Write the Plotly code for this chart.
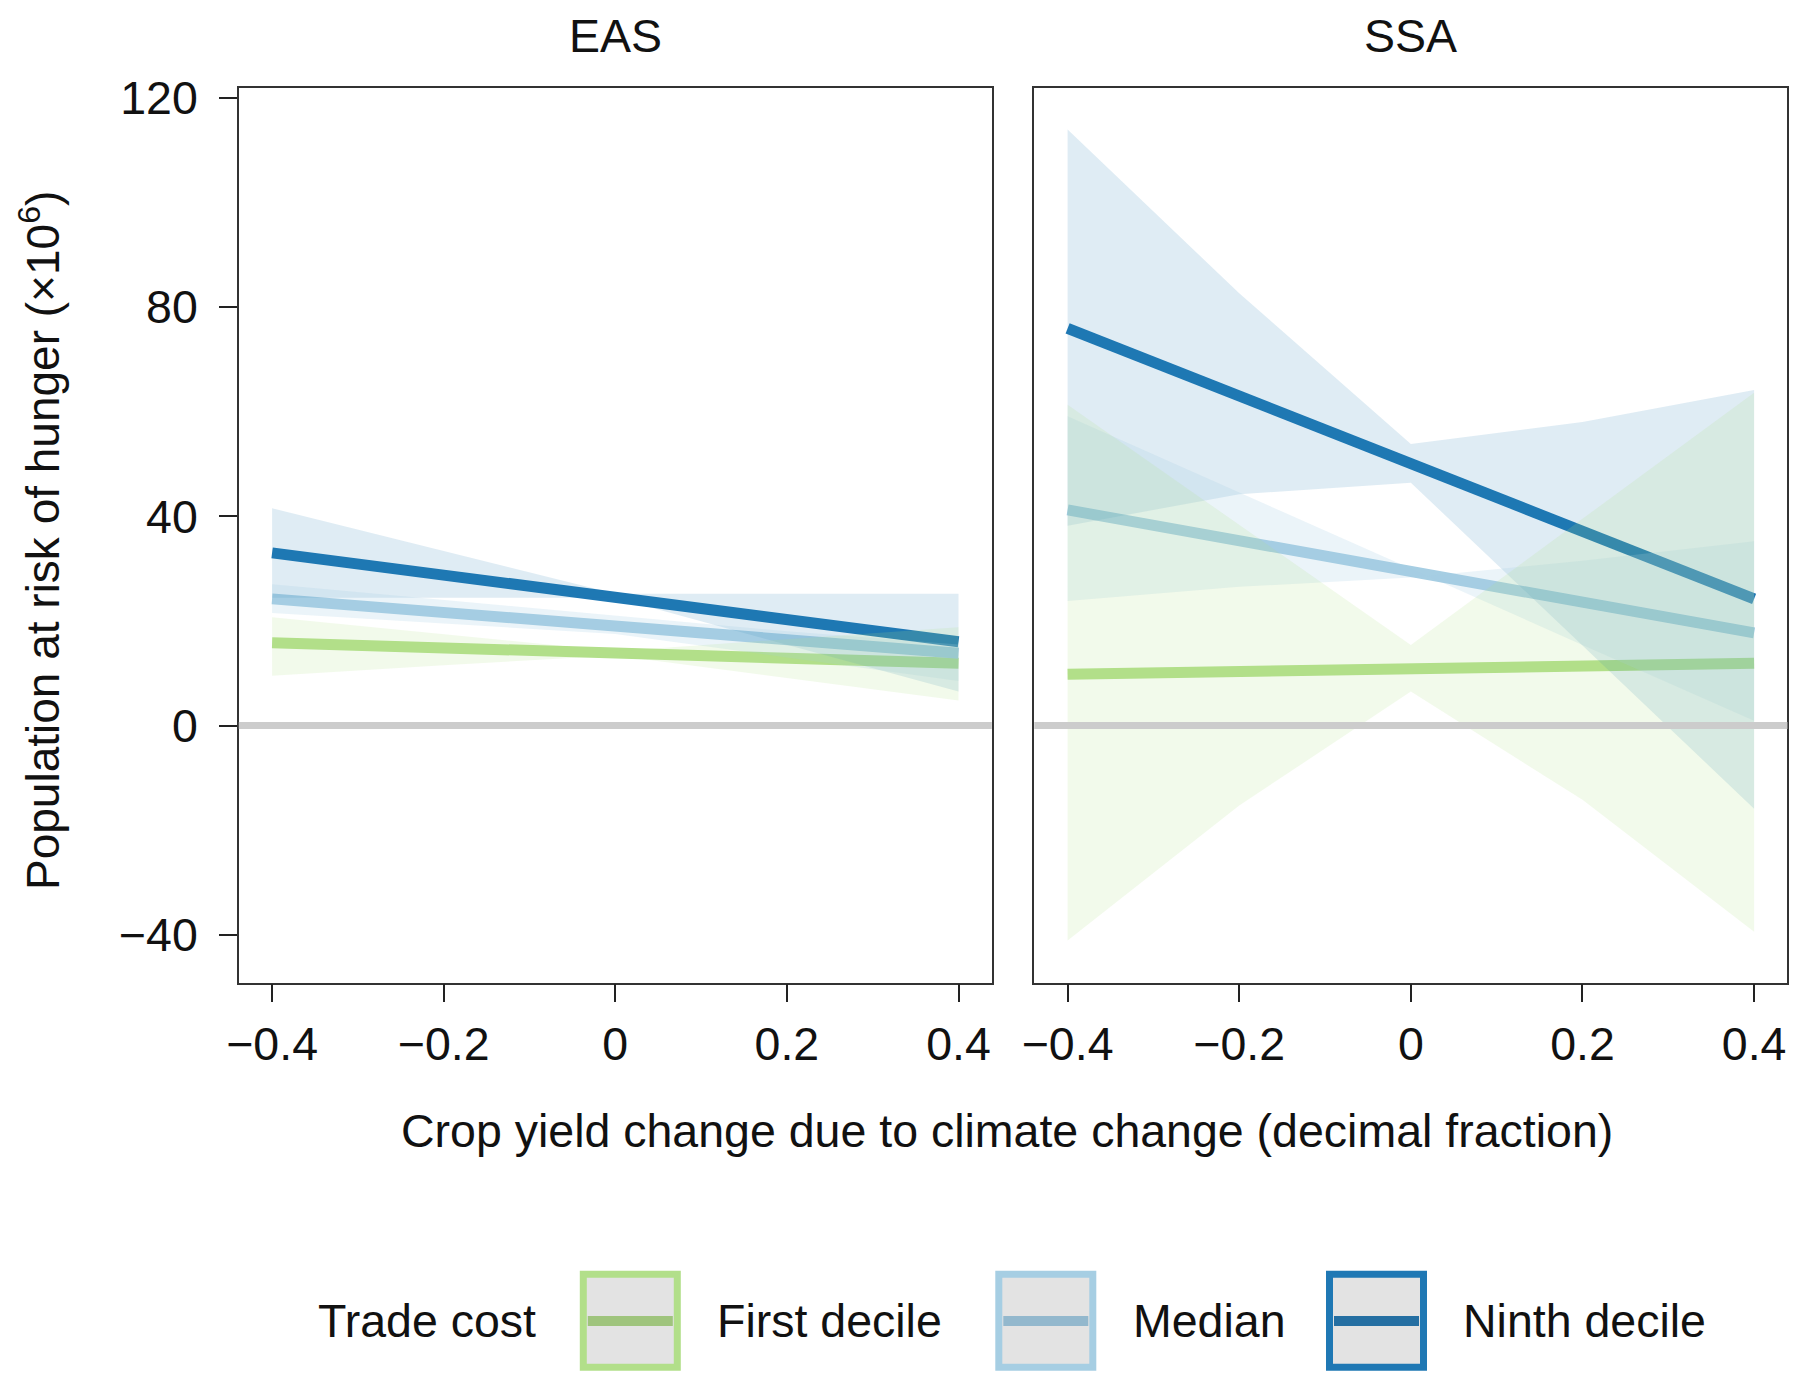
import plotly.graph_objects as go

# ---------------- data ----------------
x_vals = [-0.4, -0.2, 0.0, 0.2, 0.4]
x_tick_vals = [-0.4, -0.2, 0.0, 0.2, 0.4]
x_tick_text = ["\u22120.4", "\u22120.2", "0", "0.2", "0.4"]
y_tick_vals = [-40, 0, 40, 80, 120]
y_tick_text = ["\u221240", "0", "40", "80", "120"]

regions = ["EAS", "SSA"]
series_names = ["First decile", "Median", "Ninth decile"]

# EAS
eas_first_mid = [15.8, 14.8, 13.8, 12.9, 11.9]
eas_first_hi = [20.7, 17.4, 14.2, 16.5, 18.8]
eas_first_lo = [9.5, 11.5, 13.4, 9.1, 4.8]
eas_median_mid = [24.2, 21.6, 19.0, 16.4, 13.8]
eas_median_hi = [27.0, 24.0, 21.0, 18.0, 15.5]
eas_median_lo = [21.5, 19.5, 17.5, 13.0, 8.5]
eas_ninth_mid = [33.0, 28.8, 24.5, 20.2, 16.0]
eas_ninth_hi = [41.5, 33.3, 25.2, 25.2, 25.2]
eas_ninth_lo = [24.4, 24.4, 24.4, 15.5, 6.5]

# SSA
ssa_first_mid = [9.8, 10.3, 10.8, 11.3, 11.9]
ssa_first_hi = [61.3, 38.4, 15.4, 39.5, 63.6]
ssa_first_lo = [-41.1, -15.3, 6.5, -14.2, -39.4]
ssa_median_mid = [41.2, 35.3, 29.4, 23.5, 17.7]
ssa_median_hi = [59.1, 44.5, 30.0, 15.4, 0.9]
ssa_median_lo = [23.8, 26.5, 28.3, 31.5, 35.2]
ssa_ninth_mid = [75.9, 63.0, 50.1, 37.2, 24.2]
ssa_ninth_hi = [113.9, 82.6, 53.8, 58.0, 64.1]
ssa_ninth_lo = [38.2, 44.2, 46.4, 15.3, -15.9]

# ---------------- styles ----------------
line_colors = ["#b2df8a", "#a6cee3", "#1f78b4"]
band_colors = ["rgba(178,223,138,0.17)", "rgba(166,206,227,0.22)", "rgba(31,120,180,0.14)"]
legend_mid_colors = ["#9fc47d", "#93b8cd", "#256fa2"]
FONT = "Liberation Sans, Arial, Helvetica, sans-serif"
FS = 46.5
W, H = 1800, 1385

# page-placement compensation (target screen px -> figure px): the page body has an 8px margin
OX, OY = 8.0, 8.0


def px2x(px):
    return (px - OX) / W


def py2y(py):
    return 1 - (py - OY) / H


data = {
    "EAS": [(eas_first_mid, eas_first_lo, eas_first_hi),
            (eas_median_mid, eas_median_lo, eas_median_hi),
            (eas_ninth_mid, eas_ninth_lo, eas_ninth_hi)],
    "SSA": [(ssa_first_mid, ssa_first_lo, ssa_first_hi),
            (ssa_median_mid, ssa_median_lo, ssa_median_hi),
            (ssa_ninth_mid, ssa_ninth_lo, ssa_ninth_hi)],
}

fig = go.Figure()
axis_ids = {"EAS": ("x", "y"), "SSA": ("x2", "y2")}

for reg in regions:
    xa, ya = axis_ids[reg]
    for i, (mid, lo, hi) in enumerate(data[reg]):
        fig.add_trace(go.Scatter(x=x_vals, y=mid, mode="lines", xaxis=xa, yaxis=ya,
                                 line=dict(color=line_colors[i], width=11),
                                 showlegend=False, hoverinfo="skip"))
    for i in [2, 1, 0]:
        mid, lo, hi = data[reg][i]
        fig.add_trace(go.Scatter(x=x_vals + x_vals[::-1], y=hi + lo[::-1],
                                 mode="lines", fill="toself", fillcolor=band_colors[i],
                                 line=dict(width=0, color="rgba(0,0,0,0)"),
                                 xaxis=xa, yaxis=ya, showlegend=False, hoverinfo="skip"))

x_range = [-0.4388, 0.4388]
y_range = [-49.15, 121.76]
dom_y = [py2y(982.7), py2y(88.4)]

common_x = dict(range=x_range, tickvals=x_tick_vals, ticktext=x_tick_text,
                ticks="outside", ticklen=18, tickwidth=1.5, tickcolor="#222",
                showline=True, linecolor="#333", linewidth=1.5, mirror=True,
                showgrid=False, zeroline=False, ticklabelstandoff=2, automargin=False,
                tickfont=dict(family=FONT, size=FS, color="#111"))
common_y = dict(range=y_range, showline=True, linecolor="#333", linewidth=1.5, mirror=True,
                showgrid=False, zeroline=False, domain=dom_y, automargin=False)

fig.update_layout(
    width=W, height=H,
    margin=dict(l=0, r=0, t=0, b=0),
    paper_bgcolor="white", plot_bgcolor="white",
    font=dict(family=FONT, size=FS, color="#111"),
    showlegend=False,
    xaxis=dict(domain=[px2x(238.8), px2x(991.8)], anchor="y", **common_x),
    xaxis2=dict(domain=[px2x(1034.3), px2x(1787.4)], anchor="y2", **common_x),
    yaxis=dict(anchor="x", tickvals=y_tick_vals, ticktext=y_tick_text, ticks="outside",
               ticklen=18, tickwidth=1.5, tickcolor="#222", ticklabelstandoff=12,
               tickfont=dict(family=FONT, size=FS, color="#111"), **common_y),
    yaxis2=dict(anchor="x2", showticklabels=False, ticks="", **common_y),
)

for xa, ya in [("x", "y"), ("x2", "y2")]:
    fig.add_shape(type="line", xref=f"{xa} domain", yref=ya, x0=0, x1=1, y0=0, y1=0,
                  line=dict(color="#cccccc", width=7), layer="above")

# panel titles: box top aligned with the top of the figure so nothing is clipped
for reg, cx in [("EAS", (238.8 + 991.8) / 2), ("SSA", (1034.3 + 1787.4) / 2)]:
    fig.add_annotation(text=reg, x=px2x(cx), y=1.0, xref="paper", yref="paper",
                       showarrow=False, xanchor="center", yanchor="top",
                       font=dict(family=FONT, size=FS, color="#111"))

fig.add_annotation(text="Population at risk of hunger (\u00d710<sup>6</sup>)",
                   x=px2x(40), y=py2y(541), xref="paper", yref="paper", textangle=-90,
                   showarrow=False, xanchor="center", yanchor="middle",
                   font=dict(family=FONT, size=46, color="#111"))
fig.add_annotation(text="Crop yield change due to climate change (decimal fraction)",
                   x=px2x(1007), y=py2y(1131), xref="paper", yref="paper",
                   showarrow=False, xanchor="center", yanchor="middle",
                   font=dict(family=FONT, size=FS, color="#111"))

# custom legend
legend_title = "Trade cost"
LEG_Y = 1321
fig.add_annotation(text=legend_title, x=px2x(316), y=py2y(LEG_Y), xref="paper", yref="paper",
                   showarrow=False, xanchor="left", yanchor="middle",
                   font=dict(family=FONT, size=FS, color="#111"))
box_x = [(579.8, 680.8), (995.3, 1096.3), (1326.0, 1427.0)]
text_x = [715, 1131, 1461]
by0, by1 = 1270.8, 1370.7
bw = 7
for i, name in enumerate(series_names):
    x0, x1 = box_x[i]
    fig.add_shape(type="rect", xref="paper", yref="paper",
                  x0=px2x(x0 + bw / 2), x1=px2x(x1 - bw / 2),
                  y0=py2y(by1 - bw / 2), y1=py2y(by0 + bw / 2),
                  line=dict(color=line_colors[i], width=bw), fillcolor="#e3e3e3")
    fig.add_shape(type="line", xref="paper", yref="paper",
                  x0=px2x(x0 + bw + 1), x1=px2x(x1 - bw - 1),
                  y0=py2y(LEG_Y), y1=py2y(LEG_Y),
                  line=dict(color=legend_mid_colors[i], width=10))
    fig.add_annotation(text=name, x=px2x(text_x[i]), y=py2y(LEG_Y), xref="paper", yref="paper",
                       showarrow=False, xanchor="left", yanchor="middle",
                       font=dict(family=FONT, size=FS, color="#111"))

fig.write_html("out.html")
